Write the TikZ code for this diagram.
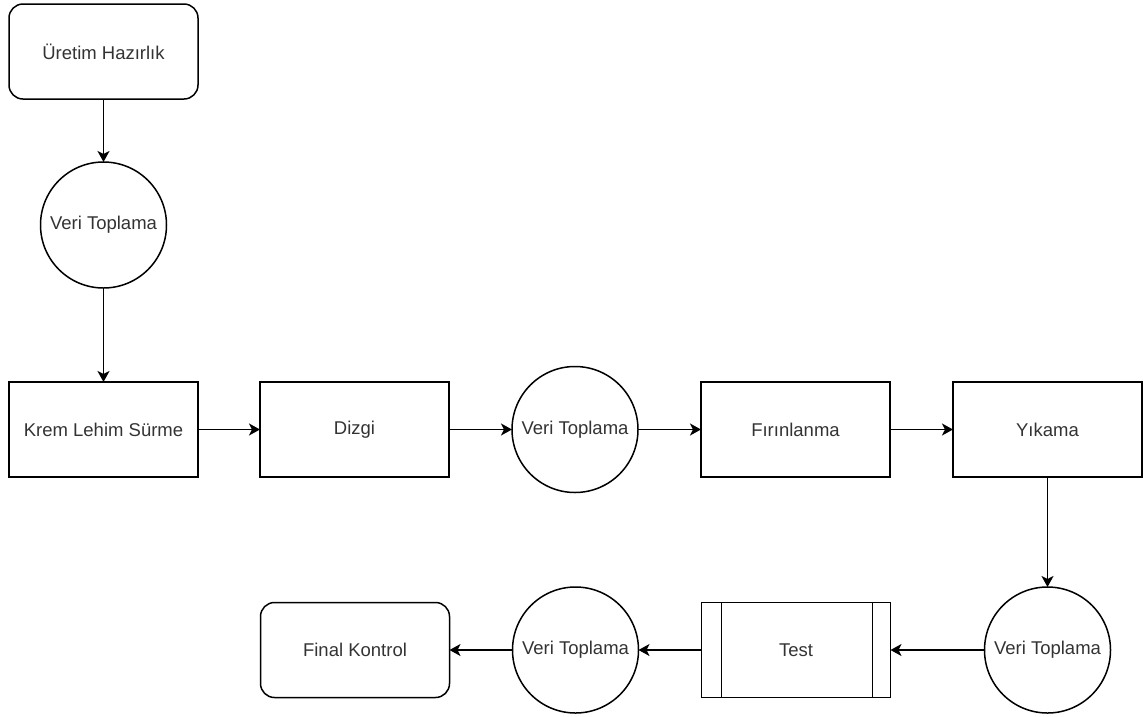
\documentclass[tikz,border=0pt]{standalone}
\usepackage{fontspec}
\setmainfont{Liberation Sans}
\usetikzlibrary{positioning,arrows.meta}

\begin{document}
\begin{tikzpicture}[
    x=1pt, y=-1pt,
    every node/.style={font=\fontsize{18.5}{22}\selectfont, text=black!80},
    boxNode/.style={rectangle, draw, minimum width=189pt, minimum height=95pt, outer sep=0pt, line width=1.5pt},
    roundNode/.style={boxNode, rounded corners=14pt},
    circleNode/.style={circle, draw, minimum size=126pt, inner sep=0pt, outer sep=0pt, line width=1.5pt},
    subNode/.style={boxNode, path picture={
        \draw[line width=1.5pt] ([xshift=20pt]path picture bounding box.north west) -- ([xshift=20pt]path picture bounding box.south west);
        \draw[line width=1.5pt] ([xshift=-18pt]path picture bounding box.north east) -- ([xshift=-18pt]path picture bounding box.south east);}},
    arrow/.style={-{Stealth[length=11pt, width=12pt, inset=3pt]}, line width=1.5pt}
  ]
  \useasboundingbox (0,0) rectangle (1143,716);

  % Top column
  \node[roundNode] (prep) at (103.5,51.5) {Üretim Hazırlık};
  \node[circleNode, below=63pt of prep] (veri1) {Veri Toplama};
  \node[boxNode, below=94pt of veri1] (krem) {Krem Lehim Sürme};

  % Middle row
  \node[boxNode, right=62pt of krem] (dizgi) {Dizgi};
  \node[circleNode, right=63pt of dizgi] (veri2) {Veri Toplama};
  \node[boxNode, right=63pt of veri2] (firin) {Fırınlanma};
  \node[boxNode, right=63pt of firin] (yikama) {Yıkama};

  % Bottom row
  \node[circleNode, below=110pt of yikama] (veri3) {Veri Toplama};
  \node[subNode, left=94pt of veri3] (test) {Test};
  \node[circleNode, left=63pt of test] (veri4) {Veri Toplama};
  \node[roundNode, left=63pt of veri4] (final) {Final Kontrol};

  % Arrows
  \draw[arrow] (prep) -- (veri1);
  \draw[arrow] (veri1) -- (krem);
  \draw[arrow] (krem) -- (dizgi);
  \draw[arrow] (dizgi) -- (veri2);
  \draw[arrow] (veri2) -- (firin);
  \draw[arrow] (firin) -- (yikama);
  \draw[arrow] (yikama) -- (veri3);
  \draw[arrow] (veri3) -- (test);
  \draw[arrow] (test) -- (veri4);
  \draw[arrow] (veri4) -- (final);

\end{tikzpicture}
\end{document}
